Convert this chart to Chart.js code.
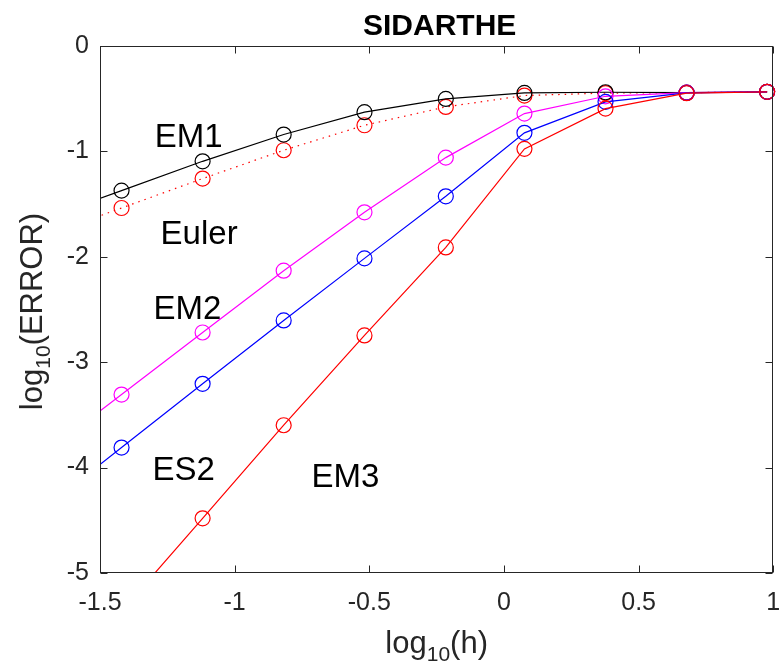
<!DOCTYPE html>
<html><head><meta charset="utf-8">
<script src="https://cdn.jsdelivr.net/npm/chart.js@4/dist/chart.umd.min.js"></script>
<style>html,body{margin:0;padding:0;background:#fff;}</style>
</head><body>
<canvas id="c" width="782" height="667"></canvas>
<script>
// log10(h) values (first point lies left of the visible window; line continues off-frame)
const logH    = [-1.721, -1.420, -1.119, -0.818, -0.518, -0.216, 0.076, 0.377, 0.678, 0.977];
// log10(ERROR) for each method
const errEM1   = [-1.650, -1.372, -1.094, -0.840, -0.628, -0.502, -0.445, -0.439, -0.443, -0.435];
const errEuler = [-1.816, -1.537, -1.258, -0.989, -0.752, -0.578, -0.470, -0.447, -0.443, -0.435];
const errEM2   = [-3.896, -3.307, -2.718, -2.132, -1.578, -1.059, -0.641, -0.477, -0.443, -0.435];
const errES2   = [-4.415, -3.810, -3.205, -2.604, -2.015, -1.426, -0.824, -0.530, -0.445, -0.435];
const errEM3   = [-6.245, -5.363, -4.481, -3.598, -2.746, -1.911, -0.976, -0.594, -0.448, -0.435];
const xTicks = [-1.5, -1, -0.5, 0, 0.5, 1];
const xTickLabels = ['-1.5', '-1', '-0.5', '0', '0.5', '1'];
const yTicks = [-5, -4, -3, -2, -1, 0];
const yTickLabels = ['-5', '-4', '-3', '-2', '-1', '0'];
const titleText = 'SIDARTHE';
const annoText = ['EM1', 'Euler', 'EM2', 'ES2', 'EM3'];
const annoX    = [-1.297, -1.275, -1.301, -1.305, -0.715];
const annoY    = [-0.954, -1.876, -2.588, -4.117, -4.183];

const FONT = '"Liberation Sans", Arial, Helvetica, sans-serif';
const AX = '#262626';
const pts = arr => logH.map((x, i) => ({x, y: arr[i]}));
const CLIP = {left: 0, top: 0, right: 9, bottom: 0};

function lineDS(arr, color, dash) {
  return {data: pts(arr), borderColor: color, borderWidth: 1.2, borderDash: dash || [],
    pointRadius: 0, pointHoverRadius: 0, showLine: true, tension: 0, clip: CLIP, fill: false};
}
function markDS(arr, color) {
  return {data: pts(arr), showLine: false, pointStyle: 'circle', pointRadius: 7.5, pointHoverRadius: 7.5,
    pointBorderColor: color, pointBackgroundColor: 'rgba(0,0,0,0)', pointBorderWidth: 1.2, clip: CLIP};
}

const decor = {
  id: 'decor',
  afterDatasetsDraw(chart) {
    const ctx = chart.ctx, a = chart.chartArea;
    const xs = chart.scales.x, ys = chart.scales.y;
    ctx.save();
    const L = Math.round(a.left) + 0.5, R = Math.round(a.right) - 0.5;
    const T = Math.round(a.top) + 0.5, B = Math.round(a.bottom) - 0.5;
    ctx.strokeStyle = AX; ctx.lineWidth = 1; ctx.setLineDash([]);
    ctx.strokeRect(L, T, R - L, B - T);
    const tl = 7;
    ctx.beginPath();
    xTicks.forEach(v => {
      const px = Math.round(xs.getPixelForValue(v)) + 0.5;
      ctx.moveTo(px, B); ctx.lineTo(px, B - tl);
      ctx.moveTo(px, T); ctx.lineTo(px, T + tl);
    });
    yTicks.forEach(v => {
      const py = Math.round(ys.getPixelForValue(v)) + 0.5;
      ctx.moveTo(L, py); ctx.lineTo(L + tl, py);
      ctx.moveTo(R, py); ctx.lineTo(R - tl, py);
    });
    ctx.stroke();
    ctx.fillStyle = '#000';
    ctx.font = '33px ' + FONT;
    ctx.textAlign = 'left'; ctx.textBaseline = 'alphabetic';
    annoText.forEach((t, i) => ctx.fillText(t, xs.getPixelForValue(annoX[i]), ys.getPixelForValue(annoY[i])));
    ctx.font = 'bold 30px ' + FONT;
    ctx.textAlign = 'center';
    ctx.fillText(titleText, (a.left + a.right) / 2 + 3, 35);
    function subLabel(pre, sub, post, big, small, off) {
      ctx.font = big + 'px ' + FONT; const w1 = ctx.measureText(pre).width, w3 = ctx.measureText(post).width;
      ctx.font = small + 'px ' + FONT; const w2 = ctx.measureText(sub).width;
      const W = w1 + w2 + w3;
      ctx.textAlign = 'left';
      ctx.font = big + 'px ' + FONT; ctx.fillText(pre, -W / 2, 0);
      ctx.font = small + 'px ' + FONT; ctx.fillText(sub, -W / 2 + w1, off);
      ctx.font = big + 'px ' + FONT; ctx.fillText(post, -W / 2 + w1 + w2, 0);
    }
    ctx.fillStyle = AX;
    ctx.save();
    ctx.translate((a.left + a.right) / 2, 653);
    subLabel('log', '10', '(h)', 31, 21, 8);
    ctx.restore();
    ctx.save();
    ctx.translate(42, (a.top + a.bottom) / 2 + 2);
    ctx.rotate(-Math.PI / 2);
    subLabel('log', '10', '(ERROR)', 31, 21, 8);
    ctx.restore();
    ctx.restore();
  }
};

new Chart(document.getElementById('c'), {
  type: 'scatter',
  data: {datasets: [
    markDS(errEM3, '#ff0000'), lineDS(errEM3, '#ff0000'),
    markDS(errES2, '#0000ff'), lineDS(errES2, '#0000ff'),
    markDS(errEM2, '#ff00ff'), lineDS(errEM2, '#ff00ff'),
    markDS(errEM1, '#000000'), lineDS(errEM1, '#000000'),
    markDS(errEuler, '#ff0000'), lineDS(errEuler, '#ff0000', [1.5, 5]),
  ]},
  options: {
    responsive: false, animation: false, devicePixelRatio: 1,
    layout: {padding: {top: 46, right: 4, left: 0, bottom: 0}},
    plugins: {legend: {display: false}, tooltip: {enabled: false}, title: {display: false}},
    events: [],
    scales: {
      x: {type: 'linear', min: -1.5, max: 1,
        afterBuildTicks: s => { s.ticks = xTicks.map(v => ({value: v})); },
        afterFit: s => { s.height = 94; s.paddingLeft = 0; s.paddingRight = 0; },
        grid: {display: false, drawTicks: false}, border: {display: false},
        ticks: {font: {family: FONT, size: 25}, color: AX, padding: 15, maxRotation: 0, autoSkip: false,
          callback: (v, i) => xTickLabels[i]}},
      y: {type: 'linear', min: -5, max: 0,
        afterBuildTicks: s => { s.ticks = yTicks.map(v => ({value: v})); },
        afterFit: s => { s.width = 100; s.paddingTop = 0; s.paddingBottom = 0; },
        grid: {display: false, drawTicks: false}, border: {display: false},
        ticks: {font: {family: FONT, size: 25}, color: AX, padding: 11, autoSkip: false,
          callback: (v, i) => yTickLabels[i]}}
    }
  },
  plugins: [decor]
});
</script>
</body></html>
